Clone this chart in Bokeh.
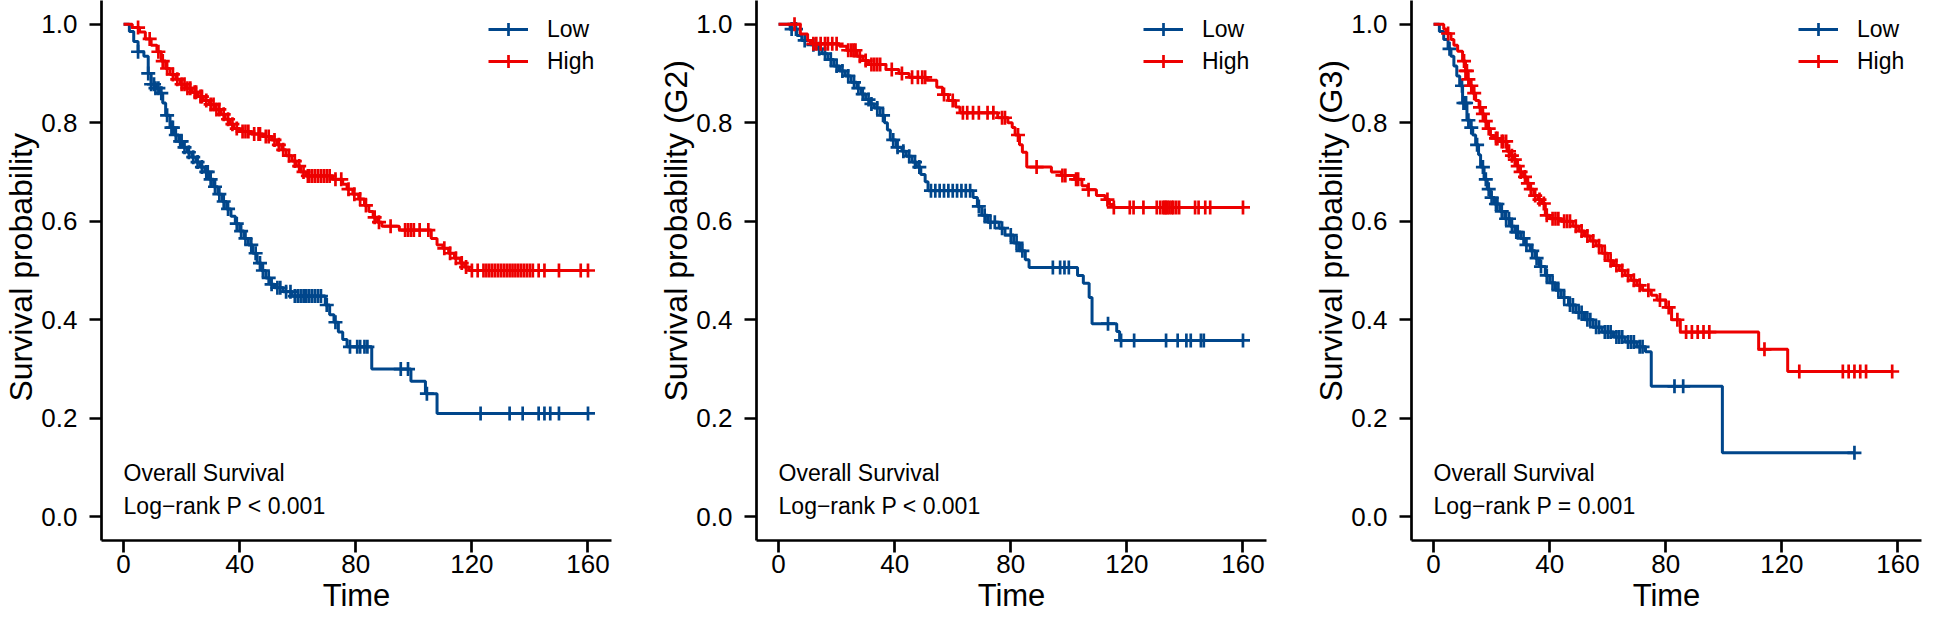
import numpy as np
from bokeh.plotting import figure
from bokeh.models import (FixedTicker, PrintfTickFormatter, Legend, LegendItem, Range1d, Label)
from bokeh.layouts import row
from bokeh.embed import file_html
from bokeh.resources import INLINE
from bokeh.core.properties import value

LOW_COLOR = "#00468B"
HIGH_COLOR = "#ED0000"
FONT = "Liberation Sans"

x_ticks = [0, 40, 80, 120, 160]
y_ticks = [0.0, 0.2, 0.4, 0.6, 0.8, 1.0]
group_labels = ["Low", "High"]
y_titles = ["Survival probability", "Survival probability (G2)", "Survival probability (G3)"]
x_title = "Time"
note_title = "Overall Survival"
p_texts = ["Log\u2212rank P < 0.001", "Log\u2212rank P < 0.001", "Log\u2212rank P = 0.001"]

# ---------------- Panel 1 ----------------
p1_low_t = [0, 2, 3.5, 5, 7, 8.5, 9.5, 11, 12.5, 13.5, 14.5, 16, 17.5, 19, 20.5, 22, 23.5, 25, 26.5, 28,
            29.5, 31, 32.5, 34, 35.5, 37, 38.5, 40, 41.5, 43, 44.5, 46, 47.5, 49, 50.5, 52, 55, 58, 69.5, 71,
            72.5, 74, 75.5, 77, 85.5, 99, 104, 108]
p1_low_s = [1.0, 0.985, 0.965, 0.944, 0.935, 0.90, 0.878, 0.87, 0.86, 0.84, 0.815, 0.79, 0.775, 0.762, 0.75, 0.74, 0.73, 0.72, 0.71, 0.70,
            0.685, 0.67, 0.655, 0.64, 0.625, 0.61, 0.595, 0.58, 0.565, 0.552, 0.535, 0.515, 0.50, 0.485, 0.472, 0.465, 0.457, 0.448, 0.43, 0.41,
            0.395, 0.375, 0.36, 0.345, 0.30, 0.275, 0.25, 0.21]
p1_low_c = [5, 8.5, 9.5, 10.5, 11, 12, 13, 15, 16.5, 17, 18, 19.5, 20, 21, 22.5, 24, 25.5, 27, 28.5, 29, 30, 31.5, 33,
            34.5, 36, 39, 40.5, 42, 44, 45.5, 47, 48, 50, 51, 53, 54, 56, 57.5, 59, 60, 61, 62, 62.5, 63, 64, 65, 66,
            67, 68, 70, 73, 78, 80.5, 81.5, 83, 84, 95.5, 98, 104.5, 123, 133, 137.5, 143, 145, 147, 150, 160]

p1_high_t = [0, 3, 5.5, 7.5, 9.5, 11.5, 13, 14.5, 16, 18, 19.5, 21.5, 23.5, 25.5, 27.5, 29.5, 31.5, 33.5, 35, 36.5,
             38, 40, 44, 48, 51, 53, 54.5, 56, 58, 59.5, 61, 63, 72, 75.5, 77, 79, 81, 83, 84.5, 86,
             87.5, 89, 95, 106, 108, 110, 112, 114, 116, 117.5, 119]
p1_high_s = [1.0, 0.993, 0.984, 0.97, 0.957, 0.944, 0.925, 0.91, 0.898, 0.888, 0.878, 0.87, 0.862, 0.853, 0.845, 0.837, 0.827, 0.817, 0.807, 0.797,
             0.788, 0.782, 0.777, 0.772, 0.765, 0.755, 0.745, 0.733, 0.722, 0.712, 0.70, 0.692, 0.685, 0.675, 0.665, 0.655, 0.645, 0.632, 0.62, 0.608,
             0.598, 0.59, 0.582, 0.565, 0.552, 0.545, 0.535, 0.525, 0.515, 0.507, 0.50]
p1_high_c = [5, 9, 12, 13.5, 15, 17, 18.5, 20, 21, 22, 23, 24.5, 25, 26.5, 27, 28.5, 30, 31, 32, 33, 34.5, 36, 37.5,
             39, 41, 42, 43, 45, 46.5, 47, 49, 50, 52, 53.5, 55, 57, 59, 60.5, 62, 63.5, 64, 65, 66, 67, 68, 69, 70,
             71, 73, 75, 77.5, 79.5, 81.5, 83.5, 86.5, 88, 92, 97, 98, 99, 100, 102, 105, 110.5, 112.5, 114.5, 116.5,
             118, 120, 122, 124, 125, 126, 127, 128, 129, 130, 131, 132, 133, 134, 135, 136, 137, 138, 139, 140, 141,
             143, 145, 150, 157.5, 160]

# ---------------- Panel 2 (G2) ----------------
p2_low_t = [0, 4, 6.3, 8, 11, 13, 15, 17, 19, 21, 23, 25, 27, 28.5, 30, 31.5, 33, 35, 36.5, 37.5,
            38.5, 40.5, 42.5, 44, 46, 47.5, 49, 50.5, 51.5, 67, 68.5, 70, 72, 76, 78, 81, 83, 85, 86.3, 103,
            105, 107, 108, 116.5, 117.5]
p2_low_s = [1.0, 0.99, 0.977, 0.967, 0.958, 0.95, 0.94, 0.928, 0.915, 0.905, 0.895, 0.882, 0.87, 0.858, 0.847, 0.838, 0.83, 0.815, 0.80, 0.785,
            0.765, 0.75, 0.742, 0.732, 0.72, 0.71, 0.695, 0.68, 0.662, 0.648, 0.63, 0.612, 0.598, 0.586, 0.572, 0.556, 0.54, 0.522, 0.506, 0.49,
            0.474, 0.445, 0.392, 0.376, 0.358]
p2_low_c = [4.5, 6, 9, 12, 14, 16, 18, 20, 22, 24, 26, 27.5, 29, 31, 32, 34, 36, 39.5, 41, 43, 45, 47, 48.5, 52.5, 54,
            55.5, 57, 58.5, 60, 61.5, 63, 64.5, 66, 69, 71, 73, 74.5, 77, 80, 82, 84, 94.5, 97, 98.5, 100, 113.5, 118,
            122.5, 133.5, 137.5, 140.5, 142, 145.5, 146.5, 160]

p2_high_t = [0, 7.5, 10, 11.5, 21, 23.5, 27, 29, 31, 37, 41.5, 45, 51, 54.5, 56.5, 58.5, 61, 62.5, 75.5, 79,
             80.5, 81.5, 83, 84, 85.5, 94, 97.5, 102, 104.5, 106.5, 109.5, 112.5, 114, 115.5]
p2_high_s = [1.0, 0.98, 0.967, 0.96, 0.955, 0.947, 0.935, 0.926, 0.918, 0.908, 0.90, 0.892, 0.886, 0.872, 0.857, 0.845, 0.832, 0.82, 0.81, 0.80,
             0.79, 0.775, 0.755, 0.74, 0.71, 0.70, 0.693, 0.685, 0.672, 0.664, 0.652, 0.644, 0.634, 0.628]
p2_high_c = [5.5, 12, 13, 14.5, 16, 17, 18.5, 20, 24, 25, 25.8, 26.5, 28, 30, 32, 33, 34, 35, 39, 42.5, 46, 48, 49.5,
             50.5, 57, 60, 63.5, 65, 67, 69, 72, 74, 77, 78, 82.5, 88.9, 97.8, 98.8, 102.5, 103.2, 106.8, 113.3, 115.5,
             121, 122.3, 125.7, 130.3, 131.5, 132.5, 133, 133.5, 134, 134.7, 135.5, 136, 137, 138, 143.5, 144.7, 147,
             148.7, 160]

# ---------------- Panel 3 (G3) ----------------
p3_low_t = [0, 2, 3.5, 5, 6, 7, 8, 9, 10, 11.5, 12.8, 13.5, 14.5, 15.5, 16.2, 17.4, 18.5, 19.6, 21, 23,
            24.5, 26.5, 28, 30, 31.5, 33.3, 35, 36.5, 38.5, 40, 42, 44, 46.5, 49, 52, 55, 58, 62, 66, 70,
            73, 75, 99.5]
p3_low_s = [1.0, 0.985, 0.969, 0.95, 0.935, 0.915, 0.895, 0.875, 0.84, 0.805, 0.79, 0.775, 0.755, 0.735, 0.71, 0.685, 0.665, 0.648, 0.635, 0.62,
            0.605, 0.59, 0.578, 0.565, 0.552, 0.54, 0.525, 0.508, 0.49, 0.475, 0.46, 0.445, 0.43, 0.415, 0.40, 0.385, 0.375, 0.365, 0.355, 0.345,
            0.335, 0.265, 0.13]
p3_low_c = [5.5, 9.8, 10.3, 10.8, 11.2, 12, 13, 15, 17, 18, 19, 20, 21.5, 22, 23.5, 25, 26, 27, 28.5, 29, 31, 32, 34,
            35.5, 37, 39, 41, 43, 45, 47, 48, 50, 51, 53, 54, 56, 57, 59, 60, 61, 63, 64, 65, 67, 68, 69, 71, 72, 83,
            86, 145]

p3_high_t = [0, 3.5, 4.3, 6, 7, 8.3, 10, 11, 11.7, 12.5, 13.5, 14.5, 15.7, 16.5, 17.4, 18.5, 19.6, 21, 23, 25.3,
             26.5, 27.6, 28.8, 29.9, 31, 32.2, 33.3, 34.5, 36, 37.3, 38.5, 40, 44, 48, 50, 52, 54, 56, 58, 60,
             62, 64, 66, 68, 70, 72, 75, 77, 80, 82, 85, 112, 122]
p3_high_s = [1.0, 0.99, 0.981, 0.969, 0.957, 0.945, 0.925, 0.905, 0.888, 0.875, 0.86, 0.845, 0.831, 0.818, 0.803, 0.788, 0.774, 0.768, 0.762, 0.742,
             0.733, 0.725, 0.712, 0.70, 0.69, 0.677, 0.665, 0.652, 0.644, 0.636, 0.612, 0.605, 0.60, 0.59, 0.58, 0.57, 0.56, 0.55, 0.535, 0.52,
             0.51, 0.50, 0.49, 0.48, 0.47, 0.46, 0.45, 0.44, 0.425, 0.40, 0.375, 0.34, 0.295]
p3_high_c = [5, 10.5, 11, 11.5, 12, 13, 14, 16, 17, 18, 19, 21.5, 22, 23.5, 24, 25, 26, 27, 28, 29, 30, 31.5, 32.5,
             33.5, 35, 36.5, 38, 39, 41, 42, 43, 45, 46, 47, 49, 51, 53, 55, 57, 59, 61, 63, 65, 67, 69, 71, 74, 78,
             81, 84, 87, 89, 91, 93, 95, 114, 126, 141, 143, 145, 147, 149, 158]


def step_points(t, s, c):
    end = max(max(c), t[-1])
    return list(t) + [end], list(s) + [s[-1]]


def censor_points(t, s, c):
    idx = np.searchsorted(np.array(t), np.array(c), side="right") - 1
    return list(c), list(np.array(s)[idx])


def make_panel(k, low, high, width, border_right):
    p = figure(width=width, height=620,
               x_range=Range1d(-7.6, 168.1), y_range=Range1d(-0.048, 1.048),
               output_backend="svg", toolbar_location=None,
               min_border_left=101, min_border_right=border_right,
               min_border_top=0, min_border_bottom=80)
    p.xgrid.visible = False
    p.ygrid.visible = False
    p.outline_line_color = None
    p.background_fill_color = "white"
    p.border_fill_color = "white"

    for ax in (p.xaxis[0], p.yaxis[0]):
        ax.axis_line_width = 2.7
        ax.axis_line_color = "black"
        ax.major_tick_line_width = 2.7
        ax.major_tick_line_color = "black"
        ax.major_tick_out = 12
        ax.major_tick_in = 0
        ax.minor_tick_line_color = None
        ax.major_label_text_font = FONT
        ax.major_label_text_font_size = "26px"
        ax.major_label_text_color = "black"
        ax.axis_label_text_font = FONT
        ax.axis_label_text_font_style = "normal"
        ax.axis_label_text_font_size = "31px"
        ax.axis_label_text_color = "black"

    p.xaxis[0].ticker = FixedTicker(ticks=x_ticks)
    p.yaxis[0].ticker = FixedTicker(ticks=y_ticks)
    p.yaxis[0].formatter = PrintfTickFormatter(format="%.1f")
    p.xaxis[0].axis_label = x_title
    p.yaxis[0].major_label_standoff = 12
    p.xaxis[0].major_label_standoff = 2
    p.xaxis[0].axis_label_standoff = 2

    # y title placed in the left border; starts at the same height in every panel
    p.add_layout(Label(x=-35.4, y=0.234, text=y_titles[k],
                       angle=np.pi / 2, text_align="left", text_baseline="middle",
                       text_font=FONT, text_font_size="32px", text_color="black"), "left")

    items = []
    for (t, s, c), color, label in ((low, LOW_COLOR, group_labels[0]), (high, HIGH_COLOR, group_labels[1])):
        xs, ys = step_points(t, s, c)
        r_line = p.step(xs, ys, mode="after", line_color=color, line_width=3.0)
        cx, cy = censor_points(t, s, c)
        r_pts = p.scatter(cx, cy, marker="cross", size=14, line_color=color, line_width=2.7)
        items.append(LegendItem(label=label, renderers=[r_line, r_pts]))

    legend = Legend(items=items, location=(387, 463), glyph_width=40, glyph_height=32,
                    label_height=32, label_standoff=19, padding=0, spacing=0, margin=0,
                    border_line_color=None, background_fill_alpha=0,
                    label_text_font=FONT, label_text_font_size="23px", label_text_color="black")
    p.add_layout(legend)

    p.text(x=[0, 0], y=[0.09, 0.022], text=[note_title, p_texts[k]],
           text_font=value(FONT), text_font_size="23px", text_color="black",
           text_align="left", text_baseline="middle")
    return p


f1 = make_panel(0, (p1_low_t, p1_low_s, p1_low_c), (p1_high_t, p1_high_s, p1_high_c), 655, 44)
f2 = make_panel(1, (p2_low_t, p2_low_s, p2_low_c), (p2_high_t, p2_high_s, p2_high_c), 655, 44)
f3 = make_panel(2, (p3_low_t, p3_low_s, p3_low_c), (p3_high_t, p3_high_s, p3_high_c), 616, 5)

layout = row(f1, f2, f3)
open("out.html", "w").write(file_html(layout, INLINE))
